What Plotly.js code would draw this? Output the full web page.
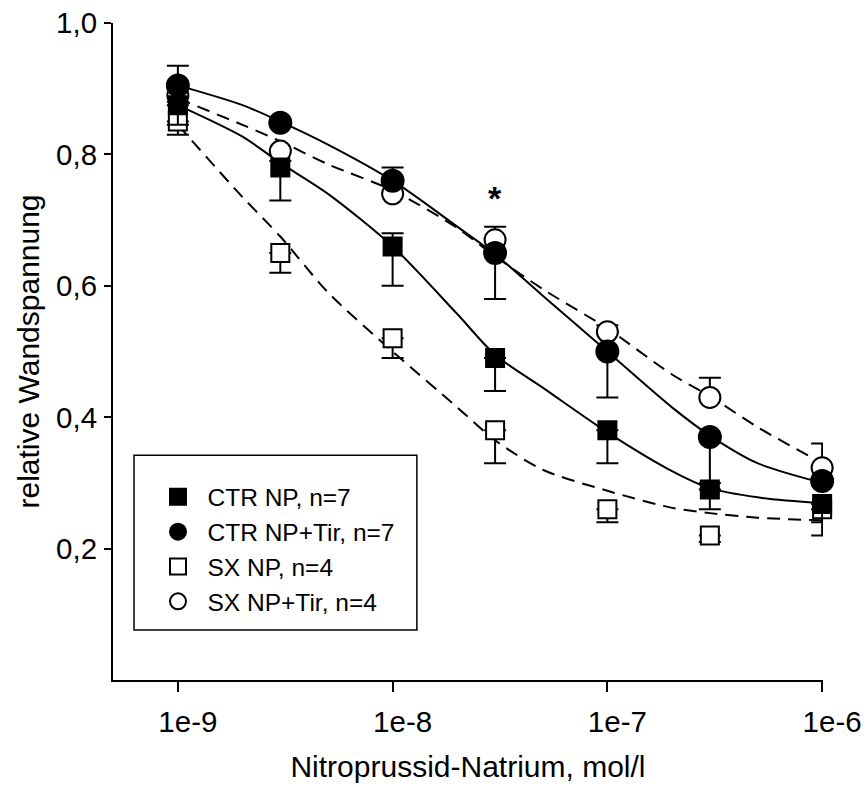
<!DOCTYPE html>
<html>
<head>
<meta charset="utf-8">
<script src="https://cdn.plot.ly/plotly-3.0.1.min.js"></script>
<style>html,body{margin:0;padding:0;background:#fff;}#chart{width:866px;height:787px;}</style>
</head>
<body>
<div id="chart"></div>
<script>
// Concentrations (mol/l)
var conc = [1e-9, 3e-9, 1e-8, 3e-8, 1e-7, 3e-7, 1e-6];

// Series names
var nameCtrNp = 'CTR NP, n=7';
var nameCtrTir = 'CTR NP+Tir, n=7';
var nameSxNp = 'SX NP, n=4';
var nameSxTir = 'SX NP+Tir, n=4';

// Measured means
var ctrNp  = [0.875, 0.78, 0.66, 0.49, 0.38, 0.29, 0.268];
var ctrTir = [0.905, 0.848, 0.76, 0.65, 0.50, 0.37, 0.303];
var sxNp   = [0.85, 0.65, 0.52, 0.38, 0.26, 0.22, 0.26];
var sxTir  = [0.89, 0.805, 0.74, 0.67, 0.53, 0.43, 0.323];

// Error bars (upper / lower)
var ctrNpUp    = [0, 0.01, 0.02, 0, 0, 0, 0];
var ctrNpDown  = [0.03, 0.05, 0.06, 0.05, 0.05, 0.03, 0.048];
var ctrTirUp   = [0.03, 0, 0.02, 0, 0, 0, 0];
var ctrTirDown = [0, 0, 0, 0.07, 0.07, 0.07, 0];
var sxNpUp     = [0, 0, 0, 0, 0, 0, 0];
var sxNpDown   = [0.02, 0.03, 0.03, 0.05, 0.02, 0.01, 0.02];
var sxTirUp    = [0, 0, 0, 0.02, 0.01, 0.03, 0.037];
var sxTirDown  = [0.01, 0, 0, 0, 0, 0, 0];

// Fitted curves
var curveX      = [1e-9, 2e-9, 3e-9, 5e-9, 1e-8, 2e-8, 3e-8, 5e-8, 1e-7, 2e-7, 3e-7, 5e-7, 1e-6];
var fitCtrNp    = [0.875, 0.827, 0.787, 0.74, 0.66, 0.557, 0.495, 0.445, 0.377, 0.318, 0.292, 0.278, 0.269];
var fitCtrTir   = [0.905, 0.875, 0.85, 0.815, 0.76, 0.69, 0.648, 0.585, 0.50, 0.415, 0.372, 0.33, 0.30];
var fitSxNp     = [0.845, 0.735, 0.675, 0.59, 0.50, 0.415, 0.365, 0.32, 0.288, 0.262, 0.254, 0.247, 0.243];
var fitSxTir    = [0.885, 0.845, 0.82, 0.785, 0.745, 0.688, 0.645, 0.595, 0.535, 0.465, 0.432, 0.385, 0.33];

// Axis ticks
var xTickVals = [1e-9, 1e-8, 1e-7, 1e-6];
var xTickText = ['1e-9', '1e-8', '1e-7', '1e-6'];
var yTickVals = [0.2, 0.4, 0.6, 0.8, 1.0];
var yTickText = ['0,2', '0,4', '0,6', '0,8', '1,0'];

// Significance mark
var starX = 3e-8, starY = 0.733, starText = '*';

var FONT = 'Liberation Sans, Arial, Helvetica, sans-serif';

function curve(y, dash) {
  return {x: curveX, y: y, type: 'scatter', mode: 'lines', showlegend: false, hoverinfo: 'skip',
    line: {color: 'black', width: 2, dash: dash, shape: 'spline', smoothing: 0.8}, cliponaxis: false};
}
function pts(name, y, up, down, symbol, size, fill, rank) {
  return {x: conc, y: y, name: name, type: 'scatter', mode: 'markers', legendrank: rank,
    legendgroup: name, cliponaxis: false,
    marker: {symbol: symbol, size: size, color: fill, line: {color: 'black', width: 2}},
    error_y: {type: 'data', symmetric: false, array: up, arrayminus: down, color: 'black', thickness: 2, width: 11}};
}

var data = [
  curve(fitCtrNp, 'solid'),
  curve(fitCtrTir, 'solid'),
  curve(fitSxNp, '13px,8px'),
  curve(fitSxTir, '13px,8px'),
  pts(nameSxTir, sxTir, sxTirUp, sxTirDown, 'circle', 21, 'white', 4),
  pts(nameSxNp, sxNp, sxNpUp, sxNpDown, 'square', 18, 'white', 3),
  pts(nameCtrNp, ctrNp, ctrNpUp, ctrNpDown, 'square', 18, 'black', 1),
  pts(nameCtrTir, ctrTir, ctrTirUp, ctrTirDown, 'circle', 22, 'black', 2)
];

var layout = {
  width: 866, height: 787,
  margin: {l: 113, r: 43, t: 23, b: 107},
  paper_bgcolor: 'white', plot_bgcolor: 'white',
  font: {family: FONT, color: 'black'},
  showlegend: true,
  xaxis: {
    type: 'log', range: [-9.302, -5.996],
    tickvals: xTickVals, ticktext: xTickText,
    ticks: 'outside', ticklen: 10, tickwidth: 2, tickcolor: 'black',
    ticklabelshift: 10, ticklabelstandoff: 5,
    showline: true, linewidth: 2, linecolor: 'black',
    showgrid: false, zeroline: false,
    tickfont: {size: 29.5, family: FONT},
    title: {text: 'Nitroprussid-Natrium, mol/l', font: {size: 30, family: FONT}, standoff: 19}
  },
  yaxis: {
    range: [0, 1],
    tickvals: yTickVals, ticktext: yTickText,
    ticks: 'outside', ticklen: 7, tickwidth: 2, tickcolor: 'black',
    ticklabelstandoff: 1,
    showline: true, linewidth: 2, linecolor: 'black',
    showgrid: false, zeroline: false,
    tickfont: {size: 29.5, family: FONT},
    title: {text: 'relative Wandspannung', font: {size: 30, family: FONT}, standoff: 8}
  },
  legend: {
    x: 0.05, y: 0.313, xanchor: 'left', yanchor: 'top',
    bgcolor: 'rgba(0,0,0,0)', borderwidth: 0,
    font: {size: 24.5, family: FONT},
    traceorder: 'grouped', tracegroupgap: 0, itemwidth: 49
  },
  shapes: [{type: 'rect', xref: 'paper', yref: 'paper', x0: 0.0296, x1: 0.428, y0: 0.076, y1: 0.342,
    line: {color: 'black', width: 1.5}, fillcolor: 'white', layer: 'below'}],
  annotations: [{x: Math.log10(starX), y: starY, xref: 'x', yref: 'y', text: starText, showarrow: false,
    font: {size: 34, family: FONT, weight: 'bold'}, yanchor: 'middle'}]
};

Plotly.newPlot('chart', data, layout, {displayModeBar: false, staticPlot: true});
</script>
</body>
</html>
